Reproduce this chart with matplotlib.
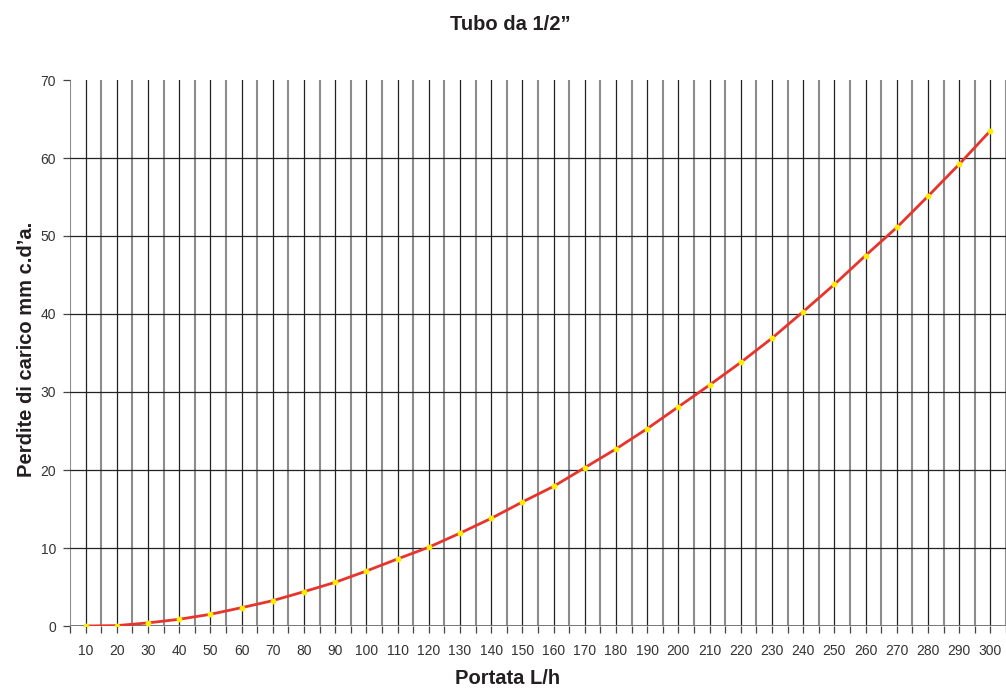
import numpy as np
import matplotlib.pyplot as plt
from matplotlib.ticker import FixedLocator

plt.rcParams['font.family'] = ['Liberation Sans', 'DejaVu Sans']

# Portata (L/h) e perdite di carico (mm c.d'a.)
portata = [10, 20, 30, 40, 50, 60, 70, 80, 90, 100,
           110, 120, 130, 140, 150, 160, 170, 180, 190, 200,
           210, 220, 230, 240, 250, 260, 270, 280, 290, 300]
perdite = [0.0, 0.05, 0.4, 0.86, 1.5, 2.35, 3.25, 4.4, 5.6, 7.05,
           8.6, 10.1, 11.9, 13.8, 15.9, 17.9, 20.3, 22.7, 25.3, 28.1,
           30.9, 33.8, 36.9, 40.3, 43.8, 47.5, 51.1, 55.1, 59.2, 63.5]
y_ticks = [0, 10, 20, 30, 40, 50, 60, 70]

TXT = '#231f20'

fig = plt.figure(figsize=(10.06, 6.88), dpi=100)
ax = fig.add_axes([70 / 1006, 1 - 626 / 688, 936 / 1006, 546 / 688])

pos = np.arange(len(portata))
ax.set_xlim(-0.5, len(portata) - 0.5)
ax.set_ylim(0, 70)

# griglia verticale: nera sui valori, grigia tra una categoria e l'altra
for p in pos:
    ax.axvline(p, color='#222222', lw=0.9, zorder=1)
for p in np.arange(len(portata) + 1) - 0.5:
    ax.axvline(p, color='#8c8c8c', lw=1.5, zorder=1)
for yv in y_ticks[1:-1]:
    ax.axhline(yv, color='#222222', lw=0.9, zorder=1)
ax.axhline(0, color='#777777', lw=1.4, zorder=1)

ax.plot(pos, perdite, color='#e8342c', lw=2.0, zorder=3)
ax.plot(pos, perdite, ls='none', marker='o', ms=3.2, mfc='#ffee00',
        mec='#ffee00', zorder=4)

for s in ax.spines.values():
    s.set_visible(False)

ax.set_xticks(pos)
ax.set_xticklabels([str(v) for v in portata])
ax.xaxis.set_minor_locator(FixedLocator(np.arange(len(portata) + 1) - 0.5))
ax.set_yticks(y_ticks)
ax.tick_params(axis='x', which='both', length=5, width=0.9, color='#444444',
               pad=8, labelsize=10, labelcolor='#333333')
ax.tick_params(axis='y', length=5, width=0.9, color='#444444',
               pad=5, labelsize=10, labelcolor='#333333')

fig.text(508 / 1006, 1 - 678 / 688, 'Portata L/h', ha='center', va='center',
         fontsize=14.5, fontweight='bold', color=TXT)
fig.text(27 / 1006, 1 - 349 / 688, 'Perdite di carico mm c.d’a.',
         ha='center', va='center', rotation=90,
         fontsize=14.5, fontweight='bold', color=TXT)
fig.text(510 / 1006, 1 - 25 / 688, 'Tubo da 1/2”', ha='center', va='center',
         fontsize=14.5, fontweight='bold', color=TXT)

fig.savefig('out.png', dpi=100)
